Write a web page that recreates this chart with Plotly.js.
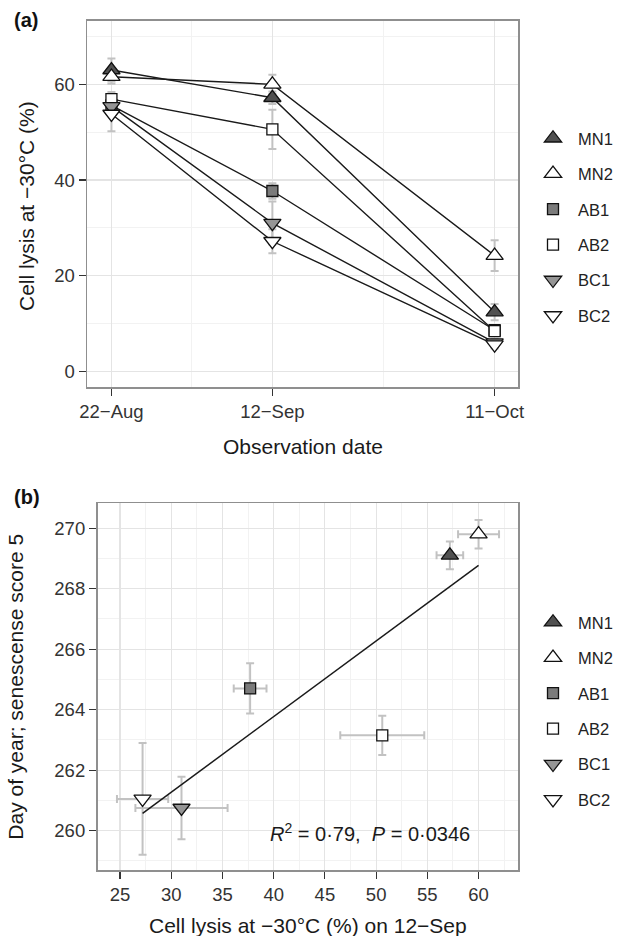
<!DOCTYPE html>
<html>
<head>
<meta charset="utf-8">
<script src="https://cdn.plot.ly/plotly-3.0.1.min.js"></script>
<style>html,body{margin:0;padding:0;background:#fff;}#chart{width:622px;height:936px;}</style>
</head>
<body>
<div id="chart"></div>
<script>
// ---------- data ----------
const groups = ['MN1', 'MN2', 'AB1', 'AB2', 'BC1', 'BC2'];
// observation dates as day of year: 22-Aug, 12-Sep, 11-Oct
const obsDays = [234, 255, 284];
const obsLabels = ['22\u2212Aug', '12\u2212Sep', '11\u2212Oct'];

// panel (a): cell lysis at -30 C (%) per date
const lysisMN1 = [63.0, 57.2, 12.4];
const lysisMN2 = [61.6, 60.0, 24.2];
const lysisAB1 = [55.6, 37.7, 8.6];
const lysisAB2 = [56.9, 50.6, 8.4];
const lysisBC1 = [55.4, 31.0, 6.0];
const lysisBC2 = [53.8, 27.2, 5.6];
const errMN1 = [2.4, 1.3, 1.7];
const errMN2 = [1.5, 2.0, 3.2];
const errAB1 = [1.5, 1.6, 1.0];
const errAB2 = [1.5, 4.1, 1.0];
const errBC1 = [1.5, 4.5, 0.8];
const errBC2 = [3.6, 2.5, 0.8];

// panel (b): lysis on 12-Sep vs day of year at senescence score 5
const lysisSep = [57.2, 60.0, 37.7, 50.6, 31.0, 27.2];
const lysisSepErr = [1.3, 2.0, 1.6, 4.1, 4.5, 2.5];
const senDay = [269.1, 269.8, 264.7, 263.15, 260.75, 261.05];
const senDayErr = [0.46, 0.47, 0.83, 0.65, 1.03, 1.85];
const fitX = [27.2, 60.0];
const fitY = [260.57, 268.77];
const statsText = '<i>R</i><sup>2</sup> = 0\u00b779,  <i>P</i> = 0\u00b70346';

// tick values
const yTicksA = [0, 20, 40, 60];
const yMinorA = [10, 30, 50, 70];
const xMinorA = [244.5, 269.5];
const xTicksB = [25, 30, 35, 40, 45, 50, 55, 60];
const xMinorB = [27.5, 32.5, 37.5, 42.5, 47.5, 52.5, 57.5, 62.5];
const yTicksB = [260, 262, 264, 266, 268, 270];
const yMinorB = [259, 261, 263, 265, 267, 269];

// ---------- styles ----------
const lysisA = [lysisMN1, lysisMN2, lysisAB1, lysisAB2, lysisBC1, lysisBC2];
const errA = [errMN1, errMN2, errAB1, errAB2, errBC1, errBC2];
const symbols = ['triangle-up', 'triangle-up', 'square', 'square', 'triangle-down', 'triangle-down'];
const fills = ['#515151', '#ffffff', '#7b7b7b', '#ffffff', '#959595', '#ffffff'];
const sizes = [15, 15, 11, 11, 15, 15];
const FONT = 'Liberation Sans, Arial, Helvetica, sans-serif';
const errColor = '#c2c2c2';

const traces = [];
// panel (a) error bars
groups.forEach((g, i) => {
  traces.push({
    x: obsDays, y: lysisA[i], type: 'scatter', mode: 'markers',
    marker: {size: 2, opacity: 0}, showlegend: false, hoverinfo: 'skip',
    error_y: {type: 'data', array: errA[i], color: errColor, thickness: 2, width: 4},
    xaxis: 'x', yaxis: 'y'
  });
});
// panel (a) lines
groups.forEach((g, i) => {
  traces.push({
    x: obsDays, y: lysisA[i], type: 'scatter', mode: 'lines',
    line: {color: '#1a1a1a', width: 1.4}, showlegend: false, hoverinfo: 'skip',
    xaxis: 'x', yaxis: 'y'
  });
});
// panel (a) markers
groups.forEach((g, i) => {
  traces.push({
    x: obsDays, y: lysisA[i], type: 'scatter', mode: 'markers', name: g,
    marker: {symbol: symbols[i], size: sizes[i], color: fills[i], line: {color: '#111', width: 1.3}},
    legendgroup: 'a' + g, legend: 'legend',
    xaxis: 'x', yaxis: 'y'
  });
});
// panel (b) error bars
groups.forEach((g, i) => {
  traces.push({
    x: [lysisSep[i]], y: [senDay[i]], type: 'scatter', mode: 'markers',
    marker: {size: 2, opacity: 0}, showlegend: false, hoverinfo: 'skip',
    error_x: {type: 'data', array: [lysisSepErr[i]], color: errColor, thickness: 2, width: 4},
    error_y: {type: 'data', array: [senDayErr[i]], color: errColor, thickness: 2, width: 4},
    xaxis: 'x2', yaxis: 'y2'
  });
});
// fit line
traces.push({
  x: fitX, y: fitY, type: 'scatter', mode: 'lines',
  line: {color: '#1a1a1a', width: 1.5}, showlegend: false, hoverinfo: 'skip',
  xaxis: 'x2', yaxis: 'y2'
});
// panel (b) markers
groups.forEach((g, i) => {
  traces.push({
    x: [lysisSep[i]], y: [senDay[i]], type: 'scatter', mode: 'markers', name: g,
    marker: {symbol: symbols[i], size: sizes[i], color: fills[i], line: {color: '#111', width: 1.3}},
    legendgroup: 'b' + g, legend: 'legend2',
    xaxis: 'x2', yaxis: 'y2'
  });
});

const W = 622, H = 936;
const px = v => v / W;
const py = v => 1 - v / H;

const axisBase = {
  ticks: 'outside', ticklen: 7, tickwidth: 1.2, tickcolor: '#333',
  showline: true, mirror: true, linecolor: '#8f8f8f', linewidth: 1.8,
  showgrid: true, gridcolor: '#e4e4e4', gridwidth: 1.2, zeroline: false,
  tickfont: {family: FONT, size: 18.5, color: '#333'}, automargin: false
};
const minorBase = {showgrid: true, gridcolor: '#f2f2f2', gridwidth: 1, ticks: ''};

const legendBase = {
  xanchor: 'left', yanchor: 'top', bgcolor: 'rgba(0,0,0,0)', borderwidth: 0,
  font: {family: FONT, size: 16.5, color: '#222'}, tracegroupgap: 11, itemwidth: 40,
  traceorder: 'grouped'
};

const layout = {
  width: W, height: H, margin: {l: 0, r: 0, t: 0, b: 0},
  paper_bgcolor: '#fff', plot_bgcolor: '#fff',
  font: {family: FONT, color: '#333'},
  xaxis: Object.assign({}, axisBase, {
    domain: [px(87.3), px(518)], range: [230.85, 287.05], anchor: 'y',
    tickmode: 'array', tickvals: obsDays, ticktext: obsLabels,
    minor: Object.assign({tickmode: 'array', tickvals: xMinorA}, minorBase)
  }),
  yaxis: Object.assign({}, axisBase, {
    domain: [py(386.7), py(20.7)], range: [-3.2, 73.3], anchor: 'x',
    tickmode: 'array', tickvals: yTicksA,
    minor: Object.assign({tickmode: 'array', tickvals: yMinorA}, minorBase)
  }),
  xaxis2: Object.assign({}, axisBase, {
    domain: [px(97.7), px(518.3)], range: [22.82, 63.88], anchor: 'y2',
    tickmode: 'array', tickvals: xTicksB,
    minor: Object.assign({tickmode: 'array', tickvals: xMinorB}, minorBase)
  }),
  yaxis2: Object.assign({}, axisBase, {
    domain: [py(870), py(503.3)], range: [258.7, 270.82], anchor: 'x2',
    tickmode: 'array', tickvals: yTicksB,
    minor: Object.assign({tickmode: 'array', tickvals: yMinorB}, minorBase)
  }),
  legend: Object.assign({}, legendBase, {x: px(528), y: py(121)}),
  legend2: Object.assign({}, legendBase, {x: px(528), y: py(605)}),
  annotations: [
    {text: '<b>(a)</b>', xref: 'paper', yref: 'paper', x: px(12), y: py(20), xanchor: 'left', yanchor: 'middle', showarrow: false, font: {family: FONT, size: 20, color: '#111'}},
    {text: '<b>(b)</b>', xref: 'paper', yref: 'paper', x: px(12), y: py(497), xanchor: 'left', yanchor: 'middle', showarrow: false, font: {family: FONT, size: 20, color: '#111'}},
    {text: 'Observation date', xref: 'paper', yref: 'paper', x: px(302.7), y: py(446.7), xanchor: 'center', yanchor: 'middle', showarrow: false, font: {family: FONT, size: 21, color: '#1a1a1a'}},
    {text: 'Cell lysis at \u221230\u00b0C (%) on 12\u2212Sep', xref: 'paper', yref: 'paper', x: px(308), y: py(925), xanchor: 'center', yanchor: 'middle', showarrow: false, font: {family: FONT, size: 21, color: '#1a1a1a'}},
    {text: 'Cell lysis at \u221230\u00b0C (%)', xref: 'paper', yref: 'paper', x: px(26), y: py(206), xanchor: 'center', yanchor: 'middle', textangle: -90, showarrow: false, font: {family: FONT, size: 21, color: '#1a1a1a'}},
    {text: 'Day of year; senescense score 5', xref: 'paper', yref: 'paper', x: px(16), y: py(686.7), xanchor: 'center', yanchor: 'middle', textangle: -90, showarrow: false, font: {family: FONT, size: 21, color: '#1a1a1a'}},
    {text: statsText, xref: 'x2', yref: 'y2', x: 49.4, y: 259.93, xanchor: 'center', yanchor: 'middle', showarrow: false, font: {family: FONT, size: 20, color: '#1a1a1a'}}
  ]
};

Plotly.newPlot('chart', traces, layout, {staticPlot: true, displayModeBar: false});
</script>
</body>
</html>
